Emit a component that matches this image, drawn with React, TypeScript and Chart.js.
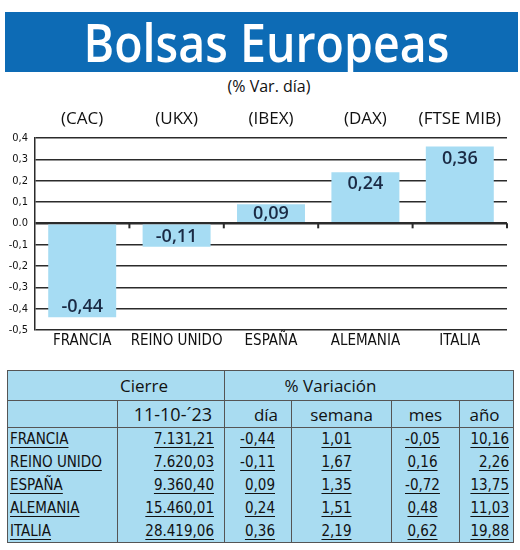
import React, { useEffect, useRef } from "react";
import { Chart, registerables } from "chart.js";

Chart.register(...registerables);

const countries = ["FRANCIA", "REINO UNIDO", "ESPAÑA", "ALEMANIA", "ITALIA"];
const indices = ["(CAC)", "(UKX)", "(IBEX)", "(DAX)", "(FTSE MIB)"];
const dayChange = [-0.44, -0.11, 0.09, 0.24, 0.36];
const yTickValues = [0.4, 0.3, 0.2, 0.1, 0, -0.1, -0.2, -0.3, -0.4, -0.5];
const yTickLabels = ["0,4", "0,3", "0,2", "0,1", "0.0", "-0,1", "-0,2", "-0,3", "-0,4", "-0,5"];

const closeDate = "11-10-´23";
const closeValues = ["7.131,21", "7.620,03", "9.360,40", "15.460,01", "28.419,06"];
const dayValues = ["-0,44", "-0,11", "0,09", "0,24", "0,36"];
const weekValues = ["1,01", "1,67", "1,35", "1,51", "2,19"];
const monthValues = ["-0,05", "0,16", "-0,72", "0,48", "0,62"];
const yearValues = ["10,16", "2,26", "13,75", "11,03", "19,88"];

const NARROW = '"Liberation Sans Narrow", "DejaVu Sans Condensed", "Arial Narrow", sans-serif';
const HUMAN = '"Open Sans", "Noto Sans", sans-serif';
const LINE = "#2b2b2b";
const BAR = "#a6dcf3";

const zeroTicks = {
  id: "zeroTicks",
  afterDatasetsDraw(chart: any) {
    const { ctx, scales } = chart;
    const x = scales.x;
    const y = scales.y;
    const y0 = y.getPixelForValue(0);
    ctx.save();
    ctx.strokeStyle = LINE;
    ctx.lineWidth = 2;
    for (let i = 0; i < countries.length; i++) {
      const xb =
        i < countries.length - 1
          ? (x.getPixelForValue(i) + x.getPixelForValue(i + 1)) / 2
          : chart.chartArea.right;
      ctx.beginPath();
      ctx.moveTo(xb, y0);
      ctx.lineTo(xb, y0 + 5);
      ctx.stroke();
    }
    ctx.restore();
  },
};

const valueLabels = {
  id: "valueLabels",
  afterDatasetsDraw(chart: any) {
    const { ctx } = chart;
    const meta = chart.getDatasetMeta(0);
    ctx.save();
    ctx.font = `600 18px ${HUMAN}`;
    ctx.fillStyle = "#1a2a44";
    ctx.textAlign = "center";
    ctx.textBaseline = "middle";
    meta.data.forEach((el: any, i: number) => {
      const v = dayChange[i];
      const h = Math.abs(el.base - el.y);
      const off = Math.min(h / 2, 11);
      const ty = v >= 0 ? el.y + off : el.y - off;
      ctx.fillText(v.toFixed(2).replace(".", ","), el.x, ty + 1);
    });
    ctx.restore();
  },
};

function BarChart() {
  const ref = useRef<HTMLCanvasElement | null>(null);
  useEffect(() => {
    if (!ref.current) return;
    const chart = new Chart(ref.current, {
      type: "bar",
      data: {
        labels: countries,
        datasets: [
          {
            data: dayChange,
            backgroundColor: BAR,
            borderWidth: 0,
            barPercentage: 0.72,
            categoryPercentage: 1,
          },
        ],
      },
      options: {
        animation: false,
        responsive: false,
        devicePixelRatio: 1,
        layout: { padding: { left: 0, right: 13, top: 0, bottom: 0 } },
        plugins: { legend: { display: false }, tooltip: { enabled: false }, title: { display: false } },
        scales: {
          x: {
            type: "category",
            position: "bottom",
            grid: { display: false, drawTicks: false },
            border: { display: false },
            ticks: {
              padding: 2,
              color: "#111",
              font: { family: NARROW, size: 15 },
              maxRotation: 0,
              autoSkip: false,
            },
            afterFit(s: any) {
              s.height = 22;
            },
          },
          x2: {
            type: "category",
            labels: indices,
            position: "top",
            grid: { display: false, drawTicks: false },
            border: { display: false },
            ticks: {
              padding: 9,
              color: "#111",
              font: { family: HUMAN, size: 17, weight: "500" },
              maxRotation: 0,
              autoSkip: false,
            },
            afterFit(s: any) {
              s.height = 42;
            },
          },
          y: {
            min: -0.5,
            max: 0.4,
            ticks: {
              stepSize: 0.1,
              padding: 7,
              color: "#111",
              font: { family: NARROW, size: 11 },
              callback(value: any) {
                const idx = yTickValues.findIndex((t) => Math.abs(t - value) < 1e-6);
                return idx >= 0 ? yTickLabels[idx] : "";
              },
            },
            grid: {
              drawTicks: false,
              color: LINE,
              lineWidth: (c: any) => (c.tick && Math.abs(c.tick.value) < 1e-6 ? 2.5 : 1.5),
            },
            border: { display: true, color: LINE, width: 1.5 },
            afterFit(s: any) {
              s.width = 35;
            },
          },
        },
      } as any,
      plugins: [zeroTicks, valueLabels],
    });
    return () => chart.destroy();
  }, []);
  return <canvas ref={ref} width={520} height={256} style={{ display: "block", width: 520, height: 256 }} />;
}

const cellBase: React.CSSProperties = { padding: 0, whiteSpace: "nowrap", color: "#111" };
const vline = "1px solid #555";

function DataTable() {
  const colW = [110, 107, 67, 100, 68, 54];
  const hdr: React.CSSProperties = { ...cellBase, fontFamily: HUMAN, fontSize: 17, fontWeight: 500 };
  const dat: React.CSSProperties = {
    ...cellBase,
    fontFamily: NARROW,
    fontSize: 15,
    textDecoration: "underline",
    textDecorationThickness: "1px",
    textUnderlineOffset: "3px",
  };
  return (
    <table
      style={{
        position: "absolute",
        left: 7,
        top: 370,
        width: 506,
        borderCollapse: "collapse",
        tableLayout: "fixed",
        background: "#a9dcf1",
        border: "1px solid #555",
      }}
    >
      <colgroup>
        {colW.map((w, i) => (
          <col key={i} style={{ width: w }} />
        ))}
      </colgroup>
      <tbody>
        <tr style={{ height: 30, borderBottom: vline }}>
          <td colSpan={2} style={{ ...hdr, textAlign: "center", paddingLeft: 56, borderRight: vline }}>
            Cierre
          </td>
          <td colSpan={4} style={{ ...hdr, textAlign: "center", paddingRight: 77 }}>
            % Variación
          </td>
        </tr>
        <tr style={{ height: 27, borderBottom: vline }}>
          <td style={{ ...hdr, borderRight: vline }}></td>
          <td style={{ ...hdr, fontSize: 18, textAlign: "right", paddingRight: 12, borderRight: vline }}>{closeDate}</td>
          <td style={{ ...hdr, textAlign: "center", paddingLeft: 16, borderRight: vline }}>día</td>
          <td style={{ ...hdr, textAlign: "center", borderRight: vline }}>semana</td>
          <td style={{ ...hdr, textAlign: "center", borderRight: vline }}>mes</td>
          <td style={{ ...hdr, textAlign: "center", paddingRight: 4 }}>año</td>
        </tr>
        {countries.map((c, i) => (
          <tr key={c} style={{ height: 23 }}>
            <td style={{ ...dat, textAlign: "left", paddingLeft: 2, borderRight: vline }}>{c}</td>
            <td style={{ ...dat, textAlign: "right", paddingRight: 10, borderRight: vline }}>{closeValues[i]}</td>
            <td style={{ ...dat, textAlign: "right", paddingRight: 16, borderRight: vline }}>{dayValues[i]}</td>
            <td style={{ ...dat, textAlign: "center", paddingRight: 10, borderRight: vline }}>{weekValues[i]}</td>
            <td style={{ ...dat, textAlign: "center", paddingRight: 6, borderRight: vline }}>{monthValues[i]}</td>
            <td style={{ ...dat, textAlign: "right", paddingRight: 4 }}>{yearValues[i]}</td>
          </tr>
        ))}
      </tbody>
    </table>
  );
}

export default function App() {
  return (
    <div
      style={{
        position: "absolute",
        left: 0,
        top: 0,
        width: 520,
        height: 550,
        background: "#fff",
        overflow: "hidden",
        fontFamily: HUMAN,
      }}
    >
      <div
        style={{
          position: "absolute",
          left: 5,
          top: 12,
          width: 513,
          height: 60,
          background: "#0d6bb5",
          display: "flex",
          alignItems: "center",
          justifyContent: "center",
        }}
      >
        <div
          style={{
            color: "#fff",
            fontFamily: HUMAN,
            fontSize: 52,
            fontWeight: 600,
            lineHeight: 1,
            transform: "translateX(5px) scaleX(0.895)",
            whiteSpace: "nowrap",
          }}
        >
          Bolsas Europeas
        </div>
      </div>
      <div
        style={{
          position: "absolute",
          left: 199,
          top: 77,
          width: 140,
          textAlign: "center",
          fontFamily: HUMAN,
          fontSize: 16,
          fontWeight: 500,
          color: "#111",
          lineHeight: "18px",
        }}
      >
        (% Var. día)
      </div>
      <div style={{ position: "absolute", left: 0, top: 96 }}>
        <BarChart />
      </div>
      <DataTable />
    </div>
  );
}
